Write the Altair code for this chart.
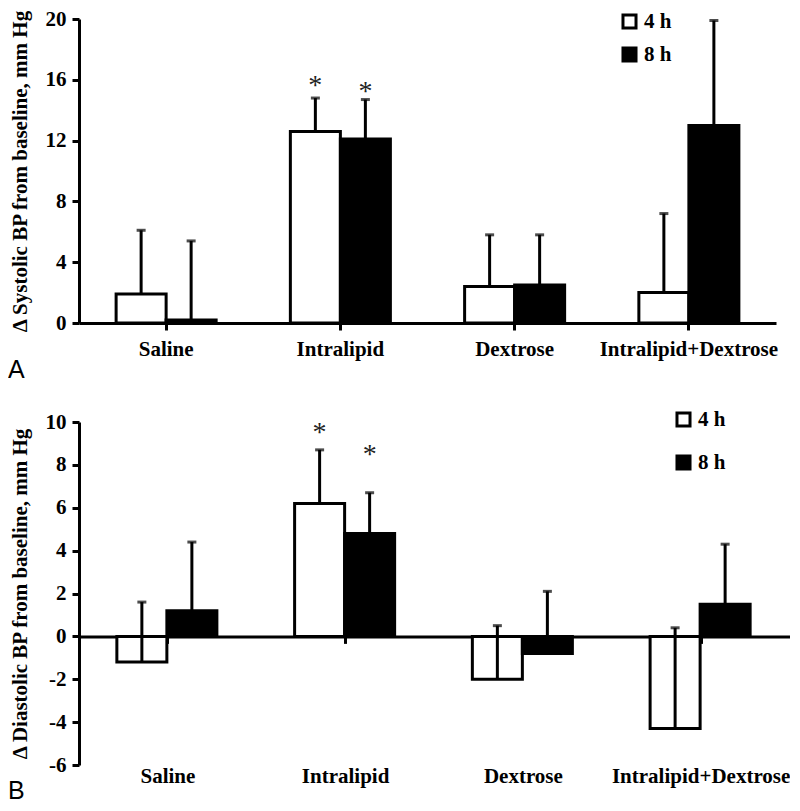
import altair as alt
import pandas as pd

categories = ["Saline", "Intralipid", "Dextrose", "Intralipid+Dextrose"]
times = ["4 h", "8 h"]

# Panel A: change in systolic BP (mm Hg)
sys_4h = [1.9, 12.6, 2.4, 2.0]
sys_8h = [0.2, 12.1, 2.5, 13.0]
sys_4h_sd = [4.2, 2.2, 3.4, 5.2]
sys_8h_sd = [5.2, 2.6, 3.3, 6.9]
sys_star_4h = [None, 15.9, None, None]
sys_star_8h = [None, 15.5, None, None]

# Panel B: change in diastolic BP (mm Hg)
dia_4h = [-1.2, 6.2, -2.0, -4.3]
dia_8h = [1.2, 4.8, -0.8, 1.5]
dia_4h_sd = [2.8, 2.5, 2.5, 4.7]
dia_8h_sd = [3.2, 1.9, 2.9, 2.8]
dia_star_4h = [None, 9.7, None, None]
dia_star_8h = [None, 8.7, None, None]

SERIF = "Liberation Serif"


def make_df(v4, v8, s4, s8, st4, st8):
    rows = []
    for i, c in enumerate(categories):
        rows.append({"cat": c, "time": times[0], "value": v4[i], "top": v4[i] + s4[i], "star": st4[i]})
        rows.append({"cat": c, "time": times[1], "value": v8[i], "top": v8[i] + s8[i], "star": st8[i]})
    return pd.DataFrame(rows)


def panel(df, ymin, ymax, yvals, w, h, title, letter, letter_y, leg_x, leg_y, row_pad, label_pad):
    zero_px = h * ymax / (ymax - ymin)
    offset = -(h - zero_px)
    x = alt.X(
        "cat:N", sort=categories,
        scale=alt.Scale(paddingInner=0.426, paddingOuter=0.213),
        axis=alt.Axis(title=None, labelAngle=0, offset=offset, labelPadding=label_pad),
    )
    xo = alt.XOffset("time:N", sort=times, scale=alt.Scale(paddingInner=0, paddingOuter=0))
    yaxis = alt.Axis(values=yvals, title=title,
                     labelExpr="replace(datum.label, '\u2212', '-')")
    yscale = alt.Scale(domain=[ymin, ymax], nice=False, zero=False)
    base = alt.Chart(df)
    bars = base.mark_bar(stroke="black", strokeWidth=3).encode(
        x=x, xOffset=xo, y=alt.Y("value:Q", scale=yscale, axis=yaxis),
        fill=alt.Fill("time:N", sort=times,
                      scale=alt.Scale(domain=times, range=["white", "black"]),
                      legend=alt.Legend(title=None, orient="none", legendX=leg_x, legendY=leg_y,
                                        symbolType="square", symbolSize=170,
                                        symbolStrokeColor="black", symbolStrokeWidth=3,
                                        labelFont=SERIF, labelFontWeight="bold", labelFontSize=21,
                                        labelColor="black", rowPadding=row_pad, labelOffset=4)),
    )
    rules = base.mark_rule(strokeWidth=3, color="black").encode(
        x=x, xOffset=xo, y=alt.Y("value:Q", scale=yscale, axis=yaxis), y2="top:Q")
    caps = base.mark_tick(color="black", thickness=3, size=9).encode(
        x=x, xOffset=xo, y=alt.Y("top:Q", scale=yscale, axis=yaxis))
    stars = base.transform_filter("isValid(datum.star)").mark_text(
        text="*", font=SERIF, fontSize=28, color="#222222", baseline="alphabetic", dy=13).encode(
        x=x, xOffset=xo, y=alt.Y("star:Q", scale=yscale, axis=yaxis))
    lab = alt.Chart(pd.DataFrame({"t": [letter]})).mark_text(
        font="Liberation Sans", fontSize=25, align="left", baseline="alphabetic", color="black").encode(
        x=alt.value(-71), y=alt.value(letter_y), text="t:N")
    return alt.layer(bars, rules, caps, stars, lab).properties(width=w, height=h)


dfA = make_df(sys_4h, sys_8h, sys_4h_sd, sys_8h_sd, sys_star_4h, sys_star_8h)
dfB = make_df(dia_4h, dia_8h, dia_4h_sd, dia_8h_sd, dia_star_4h, dia_star_8h)

pA = panel(dfA, 0, 20, [0, 4, 8, 12, 16, 20], 697, 304,
           "\u0394 Systolic BP from baseline, mm Hg", "A", 304 + 55, 540, -8, 6, 8)
pB = panel(dfB, -6, 10, [-6, -4, -2, 0, 2, 4, 6, 8, 10], 711, 343,
           "\u0394 Diastolic BP from baseline, mm Hg", "B", 343 + 34, 594, -13, 16, 122)

chart = (
    alt.vconcat(pA, pB, spacing=26)
    .resolve_legend(fill="independent")
    .configure_view(stroke=None)
    .configure_axis(
        grid=False, labelFont=SERIF, labelFontWeight="bold", labelFontSize=21, labelColor="black",
        domainColor="black", domainWidth=3, tickColor="black", tickWidth=3, tickSize=7,
        titleFont=SERIF, titleFontWeight="bold", titleFontSize=21, titleColor="black",
    )
    .configure_axisY(labelPadding=6, titlePadding=15)
    .properties(padding=0)
)

chart.save("out.html", embed_options={"renderer": "svg", "actions": False})
